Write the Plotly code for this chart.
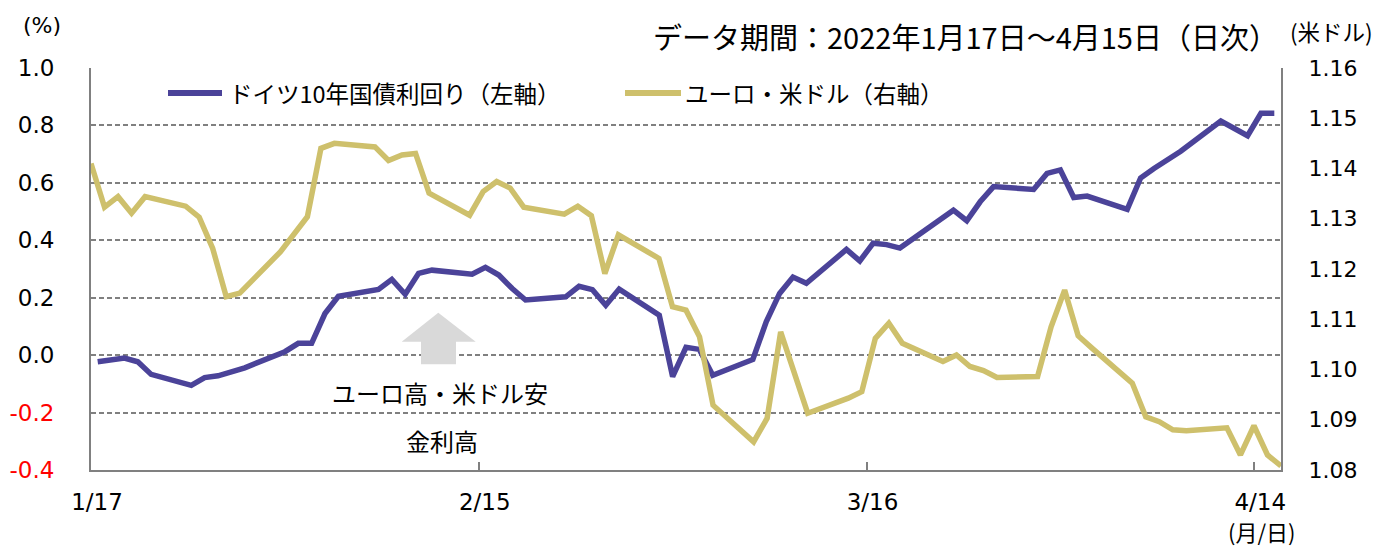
import plotly.graph_objects as go
import pandas as pd

# ---- data -------------------------------------------------------------
dates = [
    "2022-01-17", "2022-01-18", "2022-01-19", "2022-01-20", "2022-01-21",
    "2022-01-24", "2022-01-25", "2022-01-26", "2022-01-27", "2022-01-28",
    "2022-01-31",
    "2022-02-01", "2022-02-02", "2022-02-03", "2022-02-04",
    "2022-02-07", "2022-02-08", "2022-02-09", "2022-02-10", "2022-02-11",
    "2022-02-14", "2022-02-15", "2022-02-16", "2022-02-17", "2022-02-18",
    "2022-02-21", "2022-02-22", "2022-02-23", "2022-02-24", "2022-02-25",
    "2022-02-28",
    "2022-03-01", "2022-03-02", "2022-03-03", "2022-03-04",
    "2022-03-07", "2022-03-08", "2022-03-09", "2022-03-10", "2022-03-11",
    "2022-03-14", "2022-03-15", "2022-03-16", "2022-03-17", "2022-03-18",
    "2022-03-21", "2022-03-22", "2022-03-23", "2022-03-24", "2022-03-25",
    "2022-03-28", "2022-03-29", "2022-03-30", "2022-03-31",
    "2022-04-01",
    "2022-04-04", "2022-04-05", "2022-04-06", "2022-04-07", "2022-04-08",
    "2022-04-11", "2022-04-12", "2022-04-13", "2022-04-14", "2022-04-15",
]

bund_10y = [
    -0.023, -0.017, -0.010, -0.023, -0.067,
    -0.105, -0.078, -0.072, -0.058, -0.044,
    0.012,
    0.041, 0.041, 0.145, 0.205,
    0.229, 0.264, 0.212, 0.285, 0.296,
    0.282, 0.306, 0.279, 0.232, 0.192,
    0.203, 0.240, 0.228, 0.174, 0.230,
    0.139,
    -0.075, 0.027, 0.020, -0.070,
    -0.015, 0.116, 0.215, 0.272, 0.250,
    0.368, 0.328, 0.390, 0.385, 0.373,
    0.470, 0.505, 0.468, 0.534, 0.587,
    0.577, 0.633, 0.645, 0.549,
    0.554,
    0.508, 0.617, 0.650, 0.682, 0.710,
    0.815, 0.789, 0.764, 0.842, 0.842,
]

eurusd = [
    1.1410, 1.1323, 1.1344, 1.1311, 1.1344,
    1.1325, 1.1303, 1.1241, 1.1145, 1.1152,
    1.1234,
    1.1270, 1.1304, 1.1440, 1.1450,
    1.1443, 1.1416, 1.1427, 1.1430, 1.1351,
    1.1307, 1.1354, 1.1374, 1.1361, 1.1323,
    1.1309, 1.1325, 1.1306, 1.1191, 1.1268,
    1.1221,
    1.1125, 1.1118, 1.1065, 1.0929,
    1.0856, 1.0903, 1.1075, 1.0996, 1.0913,
    1.0943, 1.0956, 1.1062, 1.1092, 1.1052,
    1.1016, 1.1029, 1.1006, 1.0998, 1.0984,
    1.0986, 1.1085, 1.1158, 1.1067,
    1.1043,
    1.0973, 1.0906, 1.0896, 1.0880, 1.0878,
    1.0884, 1.0830, 1.0888, 1.0830, 1.0808,
]

series_names = ["ドイツ10年国債利回り（左軸）", "ユーロ・米ドル（右軸）"]
x_tick_dates = ["2022-01-17", "2022-02-15", "2022-03-16", "2022-04-14"]
x_tick_labels = ["1/17", "2/15", "3/16", "4/14"]
left_ticks = [-0.4, -0.2, 0.0, 0.2, 0.4, 0.6, 0.8, 1.0]
right_ticks = [1.08, 1.09, 1.10, 1.11, 1.12, 1.13, 1.14, 1.15, 1.16]
title_text = "データ期間：2022年1月17日～4月15日（日次）"
note_top = "ユーロ高・米ドル安"
note_bottom = "金利高"

# ---- styles -----------------------------------------------------------
BLUE = "#4B4399"
GOLD = "#CEC06C"
GRID = "#808080"
LATIN = "DejaVu Sans"
JP = "Noto Sans CJK JP"

L, R, T, B = 91, 113, 68, 78
W, H = 1394, 548
PW, PH = W - L - R, H - T - B


def px(x):
    return (x - L) / PW


def py(y):
    return (H - B - y) / PH


left_text = [
    (f"<span style='color:#FF0000'>{v:.1f}</span>" if v < 0 else f"{v:.1f}")
    for v in left_ticks
]

fig = go.Figure()
# primary series: each day plotted at the centre of its slot
fig.add_trace(go.Scatter(
    x=pd.to_datetime(dates) + pd.Timedelta(hours=12), y=bund_10y,
    mode="lines", name=series_names[0],
    line=dict(color=BLUE, width=5.5),
    xaxis="x", yaxis="y",
))
fig.add_trace(go.Scatter(
    x=pd.to_datetime(dates), y=eurusd,
    mode="lines", name=series_names[1],
    line=dict(color=GOLD, width=5.5),
    xaxis="x2", yaxis="y2",
))

fig.update_layout(
    width=W, height=H,
    margin=dict(l=L, r=R, t=T, b=B, autoexpand=False),
    plot_bgcolor="white", paper_bgcolor="white",
    showlegend=False,
    xaxis=dict(
        type="date", range=["2022-01-17", "2022-04-16"],
        tickvals=x_tick_dates, ticktext=x_tick_labels,
        ticks="inside", ticklen=8, tickwidth=1.5, tickcolor=GRID,
        showgrid=False, zeroline=False, automargin=False,
        showline=True, linecolor=GRID, linewidth=2,
        tickfont=dict(family=LATIN, size=23, color="black"),
        ticklabelshift=6, ticklabelstandoff=10,
    ),
    xaxis2=dict(
        type="date", range=["2022-01-17", "2022-04-15"],
        overlaying="x", anchor="y2", visible=False,
    ),
    yaxis=dict(
        range=[-0.4, 1.0], tickvals=left_ticks, ticktext=left_text,
        showgrid=True, gridcolor=GRID, gridwidth=1.6, griddash="5px,3px",
        zeroline=False, showline=True, linecolor=GRID, linewidth=2,
        automargin=False,
        ticks="", tickfont=dict(family=LATIN, size=23, color="black"),
        ticklabelstandoff=30,
    ),
    yaxis2=dict(
        range=[1.08, 1.16], tickvals=right_ticks, tickformat=".2f",
        overlaying="y", side="right", anchor="x",
        showgrid=False, zeroline=False, automargin=False,
        showline=True, linecolor=GRID, linewidth=2,
        ticks="", tickfont=dict(family=LATIN, size=22, color="black"),
        ticklabelstandoff=21,
    ),
)

# legend drawn manually (sample line + label)
fig.add_shape(type="line", xref="paper", yref="paper",
              x0=px(168), x1=px(222), y0=py(93), y1=py(93),
              line=dict(color=BLUE, width=6))
fig.add_shape(type="line", xref="paper", yref="paper",
              x0=px(625), x1=px(681), y0=py(93), y1=py(93),
              line=dict(color=GOLD, width=6))

# upward arrow
arrow = (f"M {px(401.7)},{py(341.7)} L {px(438.3)},{py(312.7)} "
         f"L {px(475.7)},{py(341.7)} L {px(456)},{py(341.7)} "
         f"L {px(456)},{py(364.3)} L {px(421)},{py(364.3)} "
         f"L {px(421)},{py(341.7)} Z")
fig.add_shape(type="path", xref="paper", yref="paper", path=arrow,
              fillcolor="#D9D9D9", line=dict(width=0))

ann = [
    dict(text=series_names[0], x=px(227), y=py(93), xanchor="left",
         font=dict(family=JP, size=23.5)),
    dict(text=series_names[1], x=px(683), y=py(93), xanchor="left",
         font=dict(family=JP, size=23.5)),
    dict(text=title_text, x=px(1280), y=py(36), xanchor="right",
         font=dict(family=JP, size=29)),
    dict(text="(%)", x=px(42), y=py(26), xanchor="center",
         font=dict(family=LATIN, size=22)),
    dict(text="(米ドル)", x=px(1331), y=py(31), xanchor="center",
         font=dict(family=JP, size=22.5)),
    dict(text="(月/日)", x=px(1262), y=py(531), xanchor="center",
         font=dict(family=JP, size=22)),
    dict(text=note_top, x=px(440), y=py(392), xanchor="center",
         font=dict(family=JP, size=24)),
    dict(text=note_bottom, x=px(442), y=py(440), xanchor="center",
         font=dict(family=JP, size=24)),
]
for a in ann:
    a.update(xref="paper", yref="paper", yanchor="middle", showarrow=False)
    a["font"]["color"] = "black"
    fig.add_annotation(**a)

fig.write_html("out.html",
               config={"displayModeBar": False},
               post_script="document.body.style.margin='0';"
                           "document.body.style.overflow='hidden';")
